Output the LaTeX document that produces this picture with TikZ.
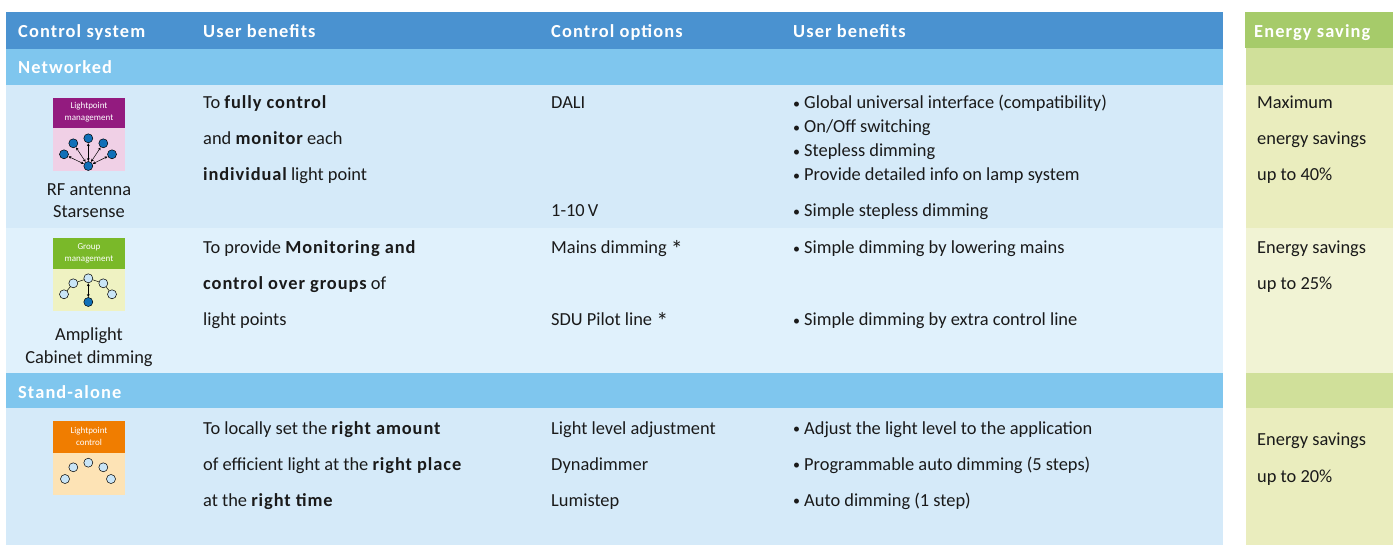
\documentclass[tikz,border=0pt]{standalone}
\usepackage{fontspec}
\setmainfont{Carlito}
\usetikzlibrary{arrows.meta}
\definecolor{hdrblue}{HTML}{4A92D0}
\definecolor{secblue}{HTML}{7FC6EE}
\definecolor{rowa}{HTML}{D5EAF9}
\definecolor{rowb}{HTML}{E0F1FC}
\definecolor{hdrgreen}{HTML}{A6CB6A}
\definecolor{secgreen}{HTML}{D0E09A}
\definecolor{grna}{HTML}{EAEDBE}
\definecolor{grnb}{HTML}{F1F3D4}
\definecolor{textdark}{HTML}{1A1A1A}
\definecolor{purp}{HTML}{931B7F}
\definecolor{pinkl}{HTML}{F0D0E6}
\definecolor{grnicon}{HTML}{7AB929}
\definecolor{grnl}{HTML}{EFF2C2}
\definecolor{orng}{HTML}{F07D00}
\definecolor{orngl}{HTML}{FDE3B5}
\definecolor{nodeblue}{HTML}{1070B8}
\definecolor{nodelight}{HTML}{C9E5F7}
\newcommand\bb[1]{{\bfseries\addfontfeature{LetterSpace=5}#1}}
\newcommand\bul{\makebox[11pt][l]{\raisebox{0.5pt}{\fontsize{14}{14}\selectfont •}}}
\newcommand\myast{\raisebox{-4pt}{\fontsize{24}{24}\selectfont *}}
\tikzset{
  txt/.style={anchor=base west, inner sep=0pt, font=\fontsize{18.4}{20}\selectfont, text=textdark},
  ctxt/.style={anchor=base, inner sep=0pt, font=\fontsize{18.4}{20}\selectfont, text=textdark},
  hdr/.style={anchor=base west, inner sep=0pt, font=\fontsize{18.4}{20}\selectfont\bfseries\addfontfeature{LetterSpace=6}, text=white},
  icontxt/.style={anchor=center, inner sep=0pt, font=\fontsize{9}{10}\selectfont, text=white},
  bnode/.style={circle, draw=black, line width=0.5pt, fill=nodeblue, minimum size=9pt, inner sep=0pt},
  lnode/.style={circle, draw=black, line width=0.5pt, fill=nodelight, minimum size=9pt, inner sep=0pt},
  dbl/.style={{Stealth[length=2.8pt,width=2.8pt]}-{Stealth[length=2.8pt,width=2.8pt]}, line width=0.5pt, black, shorten <=0.3pt, shorten >=0.3pt},
  chain/.style={line width=0.5pt, black}
}
\begin{document}
\begin{tikzpicture}[x=1pt,y=-1pt]
\useasboundingbox (0,0) rectangle (1393,545);
\fill[white] (0,0) rectangle (1393,545);
% main table background
\fill[hdrblue] (6,12) rectangle (1223,49);
\fill[secblue] (6,49) rectangle (1223,85);
\fill[rowa] (6,85) rectangle (1223,228);
\fill[rowb] (6,228) rectangle (1223,373);
\fill[secblue] (6,373) rectangle (1223,408);
\fill[rowa] (6,408) rectangle (1223,545);
% energy column background
\fill[hdrgreen] (1245,12) rectangle (1393,48);
\fill[secgreen] (1246,48) rectangle (1393,85);
\fill[grna] (1246,85) rectangle (1393,228);
\fill[grnb] (1246,228) rectangle (1393,373);
\fill[secgreen] (1246,373) rectangle (1393,408);
\fill[grna] (1246,408) rectangle (1393,545);

% headers
\node[hdr] (h1) at (18,38) {Control system};
\node[hdr] (h2) at (203,38) {User benefits};
\node[hdr] (h3) at (551,38) {Control options};
\node[hdr] (h4) at (793,38) {User benefits};
\node[hdr] (h5) at (1254,38) {Energy saving};
\node[hdr] (s1) at (18,74) {Networked};
\node[hdr] (s2) at (18,399) {Stand-alone};

% ---------- Row 1 ----------
\fill[purp] (53,98) rectangle (125,128);
\fill[pinkl] (53,128) rectangle (125,171);
\node[icontxt] (i1t1) at (89,106) {Lightpoint};
\node[icontxt] (i1t2) at (89,118.5) {management};
\node[bnode] (i1b) at (88.3,166) {};
\node[bnode] (i1n1) at (64,154.3) {};
\node[bnode] (i1n2) at (73.3,143.3) {};
\node[bnode] (i1n3) at (88.3,138.3) {};
\node[bnode] (i1n4) at (103.3,143.3) {};
\node[bnode] (i1n5) at (112,154.3) {};
\foreach \n in {i1n1,i1n2,i1n3,i1n4,i1n5} \draw[dbl] (i1b) -- (\n);
\node[ctxt] (rf1) at (89,196) {RF antenna};
\node[ctxt] (rf2) at (89,218) {Starsense};

\node[txt] (b11) at (203,109) {To \bb{fully control}};
\node[txt] (b12) at (203,145) {and \bb{monitor} each};
\node[txt] (b13) at (203,181) {\bb{individual} light point};
\node[txt] (c11) at (551,109) {DALI};
\node[txt] (c12) at (551,217) {1-10\,V};
\node[txt] (u11) at (793,109) {\bul Global universal interface (compatibility)};
\node[txt] (u12) at (793,133) {\bul On/Off switching};
\node[txt] (u13) at (793,157) {\bul Stepless dimming};
\node[txt] (u14) at (793,181) {\bul Provide detailed info on lamp system};
\node[txt] (u15) at (793,217) {\bul Simple stepless dimming};
\node[txt] (e11) at (1257,109) {Maximum};
\node[txt] (e12) at (1257,145) {energy savings};
\node[txt] (e13) at (1257,181) {up to 40\%};

% ---------- Row 2 ----------
\fill[grnicon] (53,238) rectangle (125,269);
\fill[grnl] (53,269) rectangle (125,311);
\node[icontxt] (i2t1) at (89,247) {Group};
\node[icontxt] (i2t2) at (89,259) {management};
\node[lnode] (i2n1) at (64,294.3) {};
\node[lnode] (i2n2) at (73.3,283.3) {};
\node[lnode] (i2n3) at (88.3,278.3) {};
\node[lnode] (i2n4) at (103.3,283.3) {};
\node[lnode] (i2n5) at (112,294.3) {};
\node[bnode] (i2b) at (88.3,302) {};
\draw[chain] (i2n1) -- (i2n2) -- (i2n3) -- (i2n4) -- (i2n5);
\draw[dbl] (i2n3) -- (i2b);
\node[ctxt] (am1) at (89,341) {Amplight};
\node[ctxt] (am2) at (89,363) {Cabinet dimming};

\node[txt] (b21) at (203,254) {To provide \bb{Monitoring and}};
\node[txt] (b22) at (203,290) {\bb{control over groups} of};
\node[txt] (b23) at (203,326) {light points};
\node[txt] (c21) at (551,254) {Mains dimming \myast};
\node[txt] (c22) at (551,326) {SDU Pilot line \myast};
\node[txt] (u21) at (793,254) {\bul Simple dimming by lowering mains};
\node[txt] (u22) at (793,326) {\bul Simple dimming by extra control line};
\node[txt] (e21) at (1257,254) {Energy savings};
\node[txt] (e22) at (1257,290) {up to 25\%};

% ---------- Row 3 ----------
\fill[orng] (53,421) rectangle (125,453);
\fill[orngl] (53,453) rectangle (125,495);
\node[icontxt] (i3t1) at (89,431) {Lightpoint};
\node[icontxt] (i3t2) at (89,442.5) {control};
\node[lnode] (i3n1) at (65,479) {};
\node[lnode] (i3n2) at (73.3,467.3) {};
\node[lnode] (i3n3) at (88.3,462.7) {};
\node[lnode] (i3n4) at (103.3,467.3) {};
\node[lnode] (i3n5) at (111,479) {};

\node[txt] (b31) at (203,434) {To locally set the \bb{right amount}};
\node[txt] (b32) at (203,470) {of efficient light at the \bb{right place}};
\node[txt] (b33) at (203,506) {at the \bb{right time}};
\node[txt] (c31) at (551,434) {Light level adjustment};
\node[txt] (c32) at (551,470) {Dynadimmer};
\node[txt] (c33) at (551,506) {Lumistep};
\node[txt] (u31) at (793,434) {\bul Adjust the light level to the application};
\node[txt] (u32) at (793,470) {\bul Programmable auto dimming (5 steps)};
\node[txt] (u33) at (793,506) {\bul Auto dimming (1 step)};
\node[txt] (e31) at (1257,446) {Energy savings};
\node[txt] (e32) at (1257,482) {up to 20\%};
\end{tikzpicture}
\end{document}
